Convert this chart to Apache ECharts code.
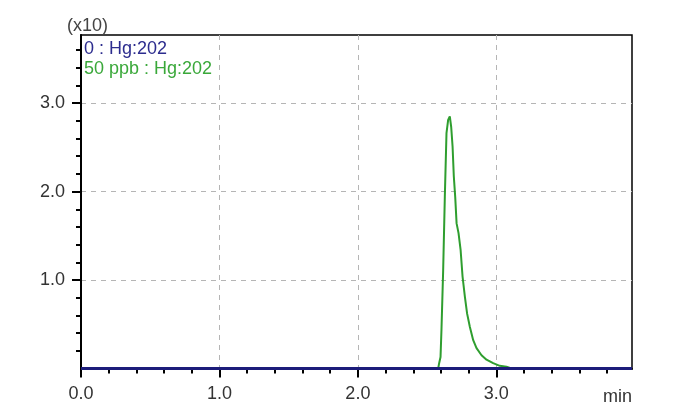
<!DOCTYPE html>
<html>
<head>
<meta charset="utf-8">
<script src="https://cdn.jsdelivr.net/npm/echarts@6/dist/echarts.min.js"></script>
<style>html,body{margin:0;padding:0;background:#fff;}#c{width:680px;height:408px;}</style>
</head>
<body>
<div id="c"></div>
<script>
// Data (time in min, intensity in x10 units)
const seriesNames = ['0 : Hg:202', '50 ppb : Hg:202'];
const blankTime = [0, 3.98];
const blankValue = [0, 0];
const stdTime = [0, 2.58, 2.587, 2.597, 2.604, 2.616, 2.628, 2.640, 2.652, 2.664, 2.674, 2.684, 2.693, 2.703, 2.713, 2.727, 2.742, 2.756, 2.773, 2.789, 2.809, 2.833, 2.857, 2.893, 2.929, 2.977, 3.025, 3.073, 3.11, 3.98];
const stdValue = [0, 0, 0.06, 0.13, 0.45, 1.11, 1.94, 2.66, 2.81, 2.85, 2.73, 2.51, 2.17, 1.94, 1.64, 1.53, 1.34, 1.04, 0.81, 0.62, 0.47, 0.32, 0.23, 0.15, 0.10, 0.06, 0.03, 0.02, 0, 0];
const xMajorTicks = [0, 1, 2, 3];
const yMajorTicks = [1, 2, 3];
const xMax = 3.98, yMax = 3.77;

const xMinorTicks = [], yMinorTicks = [];
for (let i = 1; i * 0.2 < xMax; i++) if (i % 5) xMinorTicks.push(+(i * 0.2).toFixed(1));
for (let i = 1; i * 0.2 < yMax; i++) if (i % 5) yMinorTicks.push(+(i * 0.2).toFixed(1));

const FONT = 'Liberation Sans, Arial, sans-serif';
const chart = echarts.init(document.getElementById('c'), null, {renderer: 'canvas'});
const gridLine = {show: true, lineStyle: {color: '#b5b5b5', type: [5, 5], width: 1}};
chart.setOption({
  animation: false,
  backgroundColor: '#fff',
  grid: {left: 81, top: 35, right: 48, bottom: 39.5, show: true, borderColor: '#000', borderWidth: 1.5, backgroundColor: 'transparent'},
  legend: {
    orient: 'vertical', left: 74, top: 35, icon: 'none', itemWidth: 0, itemHeight: 0, itemGap: 1,
    selectedMode: false,
    textStyle: {fontFamily: FONT, fontSize: 18, lineHeight: 19},
    data: [
      {name: seriesNames[0], textStyle: {color: '#2c2c8e'}},
      {name: seriesNames[1], textStyle: {color: '#3aa83a'}}
    ]
  },
  graphic: [
    {type: 'text', left: 67, top: 17, style: {text: '(x10)', font: '18px ' + FONT, fill: '#444'}},
    {type: 'text', right: 48, top: 388, style: {text: 'min', font: '18px ' + FONT, fill: '#333'}}
  ],
  xAxis: [
    {type: 'value', min: 0, max: xMax, interval: 1,
     axisLine: {show: true, onZero: false, lineStyle: {color: '#000', width: 2}},
     axisTick: {show: true, length: 9, customValues: xMajorTicks, lineStyle: {color: '#000', width: 2}},
     axisLabel: {customValues: xMajorTicks, margin: 17, color: '#333', fontFamily: FONT, fontSize: 18, formatter: v => v.toFixed(1)},
     splitLine: gridLine},
    {type: 'value', min: 0, max: xMax, position: 'bottom',
     axisLine: {show: false},
     axisTick: {show: true, length: 5, customValues: xMinorTicks, lineStyle: {color: '#000', width: 2}},
     axisLabel: {show: false}, splitLine: {show: false}}
  ],
  yAxis: [
    {type: 'value', min: 0, max: yMax, interval: 1,
     axisLine: {show: true, onZero: false, lineStyle: {color: '#000', width: 2}},
     axisTick: {show: true, length: 9, customValues: yMajorTicks, lineStyle: {color: '#000', width: 2}},
     axisLabel: {customValues: yMajorTicks, margin: 16, color: '#333', fontFamily: FONT, fontSize: 18, formatter: v => v.toFixed(1)},
     splitLine: gridLine},
    {type: 'value', min: 0, max: yMax, position: 'left',
     axisLine: {show: false},
     axisTick: {show: true, length: 5, customValues: yMinorTicks, lineStyle: {color: '#000', width: 2}},
     axisLabel: {show: false}, splitLine: {show: false}}
  ],
  series: [
    {name: seriesNames[1], type: 'line', showSymbol: false, clip: false,
     data: stdTime.map((t, i) => [t, stdValue[i]]),
     lineStyle: {color: '#2f9e2f', width: 2}, itemStyle: {color: '#2f9e2f'}, z: 3},
    {name: seriesNames[0], type: 'line', showSymbol: false, clip: false,
     data: blankTime.map((t, i) => [t, blankValue[i]]),
     lineStyle: {color: '#1c1c7a', width: 3}, itemStyle: {color: '#1c1c7a'}, z: 4}
  ]
});
</script>
</body>
</html>
